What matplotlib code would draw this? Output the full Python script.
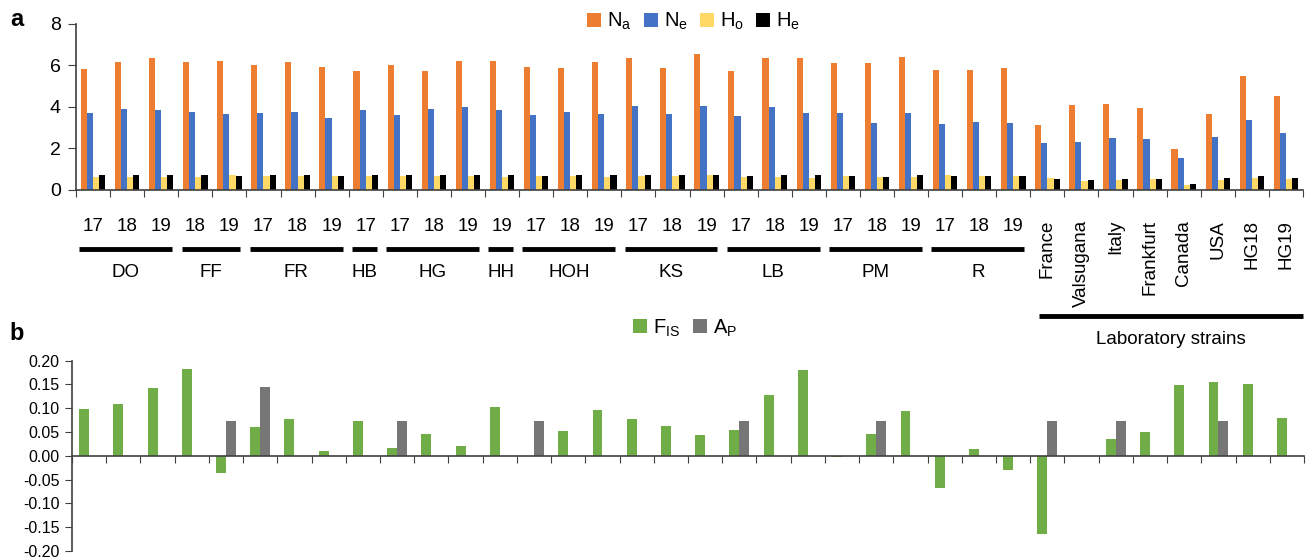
import numpy as np
import matplotlib
matplotlib.use("Agg")
import matplotlib.pyplot as plt
from matplotlib.transforms import blended_transform_factory

plt.rcParams['font.family'] = ['Liberation Sans', 'DejaVu Sans']
plt.rcParams['mathtext.fontset'] = 'custom'
plt.rcParams['mathtext.rm'] = 'Liberation Sans'
plt.rcParams['mathtext.it'] = 'Liberation Sans'
plt.rcParams['mathtext.default'] = 'rm'
plt.rcParams['axes.unicode_minus'] = False

# populations and the years sampled for each
pops = ['DO', 'FF', 'FR', 'HB', 'HG', 'HH', 'HOH', 'KS', 'LB', 'PM', 'R']
pop_years = [['17', '18', '19'], ['18', '19'], ['17', '18', '19'], ['17'],
             ['17', '18', '19'], ['19'], ['17', '18', '19'], ['17', '18', '19'],
             ['17', '18', '19'], ['17', '18', '19'], ['17', '18', '19']]
lab_strains = ['France', 'Valsugana', 'Italy', 'Frankfurt', 'Canada', 'USA', 'HG18', 'HG19']

# panel a values
Na = [5.82, 6.17, 6.38, 6.17, 6.23, 6.02, 6.17, 5.93, 5.73, 6.02, 5.73, 6.23,
      6.23, 5.94, 5.86, 6.17, 6.38, 5.86, 6.54, 5.73, 6.38, 6.38, 6.10, 6.10,
      6.43, 5.80, 5.80, 5.86, 3.15, 4.08, 4.14, 3.94, 1.99, 3.65, 5.51, 4.51]
Ne = [3.71, 3.90, 3.84, 3.78, 3.66, 3.71, 3.76, 3.47, 3.84, 3.61, 3.89, 3.98,
      3.86, 3.61, 3.74, 3.68, 4.03, 3.66, 4.05, 3.57, 4.00, 3.71, 3.73, 3.24,
      3.69, 3.20, 3.26, 3.24, 2.25, 2.31, 2.51, 2.46, 1.54, 2.55, 3.36, 2.73]
Ho = [0.64, 0.64, 0.61, 0.61, 0.71, 0.67, 0.67, 0.67, 0.67, 0.67, 0.67, 0.69,
      0.64, 0.69, 0.69, 0.64, 0.67, 0.67, 0.71, 0.64, 0.64, 0.59, 0.69, 0.61,
      0.64, 0.71, 0.66, 0.69, 0.59, 0.45, 0.48, 0.53, 0.24, 0.48, 0.56, 0.53]
He = [0.71, 0.72, 0.72, 0.72, 0.69, 0.72, 0.72, 0.69, 0.71, 0.72, 0.71, 0.74,
      0.74, 0.67, 0.72, 0.72, 0.72, 0.71, 0.74, 0.69, 0.74, 0.71, 0.69, 0.64,
      0.71, 0.66, 0.66, 0.66, 0.51, 0.48, 0.51, 0.53, 0.29, 0.59, 0.66, 0.59]

# panel b values
FIS = [0.098, 0.108, 0.142, 0.182, -0.036, 0.061, 0.077, 0.011, 0.074, 0.017,
       0.045, 0.021, 0.103, 0.0, 0.052, 0.097, 0.077, 0.062, 0.043, 0.054,
       0.127, 0.181, -0.003, 0.045, 0.094, -0.068, 0.014, -0.029, -0.164, 0.0,
       0.036, 0.050, 0.149, 0.155, 0.151, 0.079]
AP = [0, 0, 0, 0, 0.073, 0.144, 0, 0, 0, 0.073, 0, 0, 0, 0.073, 0, 0, 0, 0,
      0, 0.073, 0, 0, 0, 0.073, 0, 0, 0, 0, 0.073, 0, 0.073, 0, 0, 0.073, 0, 0]

a_ticks = [0, 2, 4, 6, 8]
b_ticks = [-0.20, -0.15, -0.10, -0.05, 0.00, 0.05, 0.10, 0.15, 0.20]
b_tick_labels = ['-0.20', '-0.15', '-0.10', '-0.05', '0.00', '0.05', '0.10', '0.15', '0.20']

n = len(Na)
x = np.arange(n) + 0.5
spine_col = '#404040'

fig = plt.figure(figsize=(13.06, 5.58), dpi=100)
ax_a = fig.add_axes([0.0582, 0.6595, 0.9395, 0.2975])
ax_b = fig.add_axes([0.0551, 0.0125, 0.9434, 0.3411])

# ---- panel a ----
w = 0.18
series_a = [(Na, '#ED7D31', '$N_a$'), (Ne, '#4472C4', '$N_e$'),
            (Ho, '#FFD966', '$H_o$'), (He, '#000000', '$H_e$')]
for k, (vals, col, lab) in enumerate(series_a):
    ax_a.bar(x + (k - 1.5) * w, vals, w, color=col, label=lab, linewidth=0)

ax_a.set_xlim(0, n)
ax_a.set_ylim(0, 8)
ax_a.set_yticks(a_ticks)
ax_a.set_xticks(np.arange(n + 1))
ax_a.set_xticklabels([])
ax_a.tick_params(axis='y', labelsize=14, length=6, color=spine_col, pad=5)
ax_a.tick_params(axis='x', length=5, color=spine_col)
for s in ['top', 'right']:
    ax_a.spines[s].set_visible(False)
for s in ['left', 'bottom']:
    ax_a.spines[s].set_color(spine_col)
    ax_a.spines[s].set_linewidth(1.2)

ax_a.legend(loc='center', bbox_to_anchor=(0.531, 0.961), bbox_transform=fig.transFigure,
            ncol=4, frameon=False, fontsize=14.5, handlelength=0.7, handleheight=0.7,
            handletextpad=0.3, columnspacing=0.6, borderpad=0)

# labels under panel a
tr = blended_transform_factory(ax_a.transData, fig.transFigure)
pos = 0
for name, years in zip(pops, pop_years):
    for j, yr in enumerate(years):
        ax_a.text(pos + j + 0.5, 0.5937, yr, transform=tr, ha='center', va='center',
                  fontsize=13.5)
    x0, x1 = pos + 0.1, pos + len(years) - 0.18
    ax_a.plot([x0, x1], [0.5532, 0.5532], transform=tr, color='black', lw=3.5,
              solid_capstyle='butt', clip_on=False)
    ax_a.text((x0 + x1) / 2, 0.5113, name, transform=tr, ha='center', va='center',
              fontsize=13.5)
    pos += len(years)

for j, strain in enumerate(lab_strains):
    ax_a.text(pos + j + 0.5, 0.6057, strain, transform=tr, ha='center', va='top',
              rotation=90, fontsize=13.5)
ax_a.plot([pos + 0.26, n], [0.4342, 0.4342], transform=tr, color='black', lw=3.5,
          solid_capstyle='butt', clip_on=False)
ax_a.text((pos + 0.26 + n) / 2, 0.3907, 'Laboratory strains', transform=tr,
          ha='center', va='center', fontsize=13.5)

# ---- panel b ----
wb = 0.29
ax_b.bar(x - wb / 2, FIS, wb, color='#70AD47', label='$F_{IS}$', linewidth=0)
ax_b.bar(x + wb / 2, AP, wb, color='#767676', label='$A_P$', linewidth=0)
ax_b.set_xlim(0, n)
ax_b.set_ylim(-0.2, 0.2)
ax_b.set_yticks(b_ticks)
ax_b.set_yticklabels(b_tick_labels)
ax_b.set_xticks(np.arange(n + 1))
ax_b.set_xticklabels([])
ax_b.tick_params(axis='y', labelsize=11.5, length=5, color=spine_col, pad=4)
ax_b.tick_params(axis='x', length=5, color=spine_col)
ax_b.spines['bottom'].set_position(('data', 0))
for s in ['top', 'right']:
    ax_b.spines[s].set_visible(False)
for s in ['left', 'bottom']:
    ax_b.spines[s].set_color(spine_col)
    ax_b.spines[s].set_linewidth(1.2)

ax_b.legend(loc='center', bbox_to_anchor=(0.5245, 0.4122), bbox_transform=fig.transFigure,
            ncol=2, frameon=False, fontsize=14.5, handlelength=0.7, handleheight=0.7,
            handletextpad=0.3, columnspacing=0.6, borderpad=0)

fig.text(0.013, 0.965, 'a', fontsize=17, fontweight='bold', ha='center', va='center')
fig.text(0.013, 0.403, 'b', fontsize=17, fontweight='bold', ha='center', va='center')

fig.savefig('out.png', dpi=100)
